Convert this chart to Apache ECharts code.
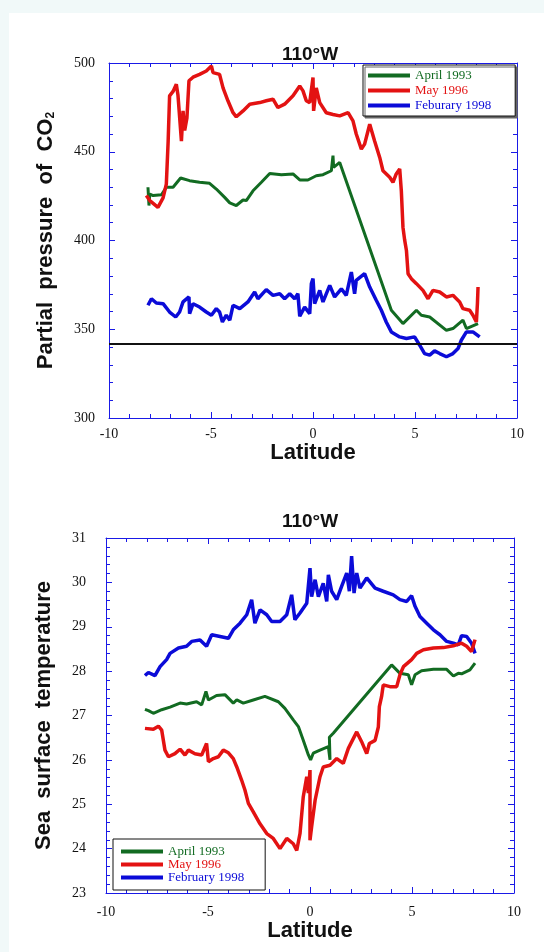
<!DOCTYPE html>
<html>
<head>
<meta charset="utf-8">
<title>110°W</title>
<script src="https://cdn.jsdelivr.net/npm/echarts/dist/echarts.min.js"></script>
<style>
	html, body { margin: 0; padding: 0; background: #f1f9f9; }
	#panel { position: absolute; left: 9px; top: 13px; width: 535px; height: 939px; background: #fff; }
	#chart { position: absolute; left: 0; top: 0; width: 544px; height: 952px; }
</style>
</head>
<body>
<div id="panel"></div>
<div id="chart"></div>
<script>
// partial pressure of CO2, [latitude, value]
var pco2Apr1993 = [[-8.09,430],[-8.04,419.7],[-8.0,426.2],[-7.84,425.3],[-7.43,425.8],[-7.19,430],[-6.86,430],[-6.49,435.2],[-6.05,433.7],[-5.56,432.8],[-5.07,432.2],[-4.74,429],[-4.33,424.3],[-4.08,421.2],[-3.76,419.7],[-3.43,422.8],[-3.27,422.5],[-2.94,428],[-2.53,432.8],[-2.12,437.8],[-1.55,437.1],[-0.98,437.5],[-0.65,434.1],[-0.25,434.1],[0.16,436.5],[0.49,437.1],[0.9,439.3],[0.98,447.8],[1.01,441.2],[1.31,444],[3.84,360.7],[4.41,353.2],[5.07,360.7],[5.31,357.9],[5.72,356.9],[6.54,349.4],[6.86,350.4],[7.35,355.1],[7.52,350.4],[8.09,353.2]];
var pco2May1996 = [[-8.17,425.3],[-8.0,422.5],[-7.6,418.7],[-7.35,424],[-7.19,431.8],[-7.1,456],[-7.03,481.5],[-6.86,484],[-6.7,488],[-6.62,482],[-6.45,456],[-6.37,473],[-6.29,462],[-6.18,469],[-6.08,490],[-5.88,492],[-5.56,493.6],[-5.23,495.5],[-4.98,498.3],[-4.9,494.6],[-4.58,493.6],[-4.41,486],[-4.17,478.7],[-3.92,472],[-3.76,469.7],[-3.43,473],[-3.1,476.8],[-2.61,477.7],[-2.29,478.7],[-1.96,479.6],[-1.72,474.9],[-1.39,476.8],[-0.98,481.5],[-0.65,487],[-0.49,484.3],[-0.33,478.7],[-0.16,477.7],[0,491.8],[0.03,473],[0.16,486],[0.33,477.7],[0.65,472],[0.98,471],[1.31,470.2],[1.72,472],[1.96,467.4],[2.12,460],[2.37,451.5],[2.53,454.3],[2.78,465.5],[3.02,456],[3.27,446.8],[3.43,439.3],[3.76,435.6],[3.92,432.8],[4.08,437.5],[4.25,440.3],[4.33,428],[4.41,407.5],[4.49,400.5],[4.58,394.4],[4.66,381.3],[4.82,378.5],[5.07,375.7],[5.39,371.9],[5.64,367.2],[5.88,371.9],[6.21,371],[6.54,368.2],[6.86,369.1],[7.19,365.4],[7.35,361.6],[7.68,360.7],[7.84,357.9],[8.01,354.1],[8.06,364.4],[8.09,373.8]];
var pco2Feb1998 = [[-8.09,363.5],[-7.92,367.2],[-7.68,364.8],[-7.35,364.4],[-7.03,359.7],[-6.73,356.9],[-6.54,359.7],[-6.37,365.4],[-6.08,368.2],[-6.05,358.8],[-5.88,364.4],[-5.56,362.5],[-5.23,359.7],[-4.98,357.9],[-4.74,361.6],[-4.58,359.7],[-4.44,354.1],[-4.25,357.9],[-4.08,355.1],[-3.92,363.5],[-3.59,361.6],[-3.19,365.4],[-2.86,371],[-2.7,367.2],[-2.29,372.3],[-1.96,369.1],[-1.63,370],[-1.39,367.2],[-1.14,370],[-0.9,367.2],[-0.74,370],[-0.65,357.3],[-0.41,362.5],[-0.16,358.8],[-0.08,375.7],[0,378.5],[0.08,364.4],[0.33,371.9],[0.49,365.4],[0.82,374.7],[1.06,368.2],[1.39,372.8],[1.63,369.1],[1.88,382.2],[2.04,370],[2.12,377.5],[2.53,381.3],[2.78,373.8],[3.1,366.3],[3.35,360.7],[3.59,354.1],[3.84,348.5],[4.25,345.7],[4.58,344.8],[4.98,345.7],[5.23,341],[5.47,336.3],[5.72,335.4],[5.96,337.8],[6.21,336.3],[6.54,334.5],[6.86,336.3],[7.11,339.1],[7.27,343.8],[7.52,348.5],[7.84,348.5],[8.17,345.7]];
var pco2RefLevel = 342;

// sea surface temperature, [latitude, value]
var sstApr1993 = [[-8.09,27.14],[-7.92,27.11],[-7.68,27.05],[-7.27,27.13],[-6.86,27.19],[-6.37,27.28],[-6.05,27.26],[-5.56,27.31],[-5.31,27.24],[-5.1,27.54],[-4.98,27.35],[-4.58,27.45],[-4.17,27.47],[-3.76,27.28],[-3.59,27.35],[-3.27,27.28],[-2.78,27.35],[-2.21,27.43],[-1.55,27.31],[-1.23,27.16],[-0.82,26.9],[-0.57,26.75],[-0.33,26.44],[-0.08,26.11],[0.03,26.0],[0.16,26.15],[0.49,26.22],[0.9,26.3],[0.98,26.0],[0.95,26.51],[1.14,26.6],[4.0,28.14],[4.41,27.95],[4.82,27.92],[4.98,27.69],[5.15,27.92],[5.47,28.01],[6.05,28.04],[6.7,28.04],[7.03,27.89],[7.27,27.95],[7.43,27.94],[7.84,28.03],[8.09,28.18]];
var sstMay1996 = [[-8.09,26.71],[-7.68,26.69],[-7.43,26.76],[-7.27,26.67],[-7.11,26.22],[-6.94,26.07],[-6.62,26.14],[-6.37,26.24],[-6.13,26.11],[-5.96,26.22],[-5.64,26.14],[-5.31,26.11],[-5.07,26.37],[-4.98,25.96],[-4.74,26.03],[-4.49,26.07],[-4.25,26.22],[-4.0,26.16],[-3.76,26.03],[-3.59,25.84],[-3.35,25.54],[-3.19,25.32],[-3.02,25.02],[-2.78,24.83],[-2.45,24.56],[-2.12,24.34],[-1.8,24.23],[-1.47,24.0],[-1.14,24.23],[-0.82,24.11],[-0.65,23.96],[-0.49,24.34],[-0.33,25.17],[-0.16,25.62],[-0.08,25.25],[0,25.77],[0,24.19],[0.08,24.49],[0.25,25.09],[0.49,25.62],[0.65,25.84],[0.98,25.88],[1.31,26.03],[1.63,25.92],[1.88,26.26],[2.29,26.63],[2.53,26.41],[2.78,26.14],[2.91,26.37],[3.19,26.44],[3.35,26.74],[3.4,27.2],[3.51,27.43],[3.59,27.69],[3.92,27.65],[4.25,27.65],[4.41,27.92],[4.58,28.1],[4.98,28.26],[5.23,28.4],[5.56,28.48],[6.05,28.52],[6.54,28.53],[7.03,28.57],[7.43,28.63],[7.68,28.56],[7.92,28.44],[8.09,28.71]];
var sstFeb1998 = [[-8.09,27.9],[-7.92,27.97],[-7.6,27.9],[-7.35,28.1],[-7.03,28.26],[-6.86,28.4],[-6.45,28.52],[-6.05,28.56],[-5.8,28.67],[-5.39,28.7],[-5.07,28.56],[-4.82,28.82],[-4.41,28.78],[-4.0,28.74],[-3.76,28.93],[-3.43,29.08],[-3.1,29.27],[-2.86,29.61],[-2.7,29.08],[-2.45,29.38],[-2.12,29.27],[-1.88,29.12],[-1.47,29.12],[-1.14,29.27],[-0.9,29.72],[-0.74,29.16],[-0.49,29.31],[-0.16,29.53],[0,30.32],[0.08,29.68],[0.25,30.06],[0.41,29.68],[0.65,29.98],[0.82,29.57],[0.9,30.17],[1.06,29.8],[1.31,29.61],[1.55,29.91],[1.8,30.21],[1.93,29.8],[2.04,30.59],[2.16,29.76],[2.29,30.21],[2.45,29.87],[2.78,30.1],[3.19,29.87],[3.59,29.8],[4.08,29.72],[4.41,29.61],[4.74,29.57],[4.98,29.7],[5.15,29.46],[5.39,29.23],[5.72,29.08],[6.05,28.93],[6.37,28.82],[6.7,28.67],[7.03,28.63],[7.27,28.59],[7.43,28.8],[7.68,28.78],[7.92,28.63],[8.09,28.4]];

var GREEN = '#126b22';
var RED = '#e31212';
var BLUE = '#0b0bd8';
var AXIS = '#1a1ae6';
var SERIF = '"Liberation Serif", "Times New Roman", serif';
var SANS = '"Liberation Sans", Arial, sans-serif';

var chart = echarts.init(document.getElementById('chart'));

// blue frame with inward ticks, labels only on left/bottom
function frameAxis(gridIndex, pos, min, max, interval, labelMargin, extra){
	var ax = {
		gridIndex: gridIndex,
		type: 'value',
		position: pos,
		min: min, max: max, interval: interval,
		axisLine: { show: true, onZero: false, lineStyle: { color: AXIS, width: 1 } },
		axisTick: { show: true, inside: true, length: 6, lineStyle: { color: AXIS } },
		minorTick: { show: true, splitNumber: 5, length: 4, lineStyle: { color: AXIS } },
		splitLine: { show: false },
		axisLabel: { show: pos == 'left' || pos == 'bottom', margin: labelMargin, color: '#111', fontFamily: SERIF, fontSize: 14 }
	};
	for (var k in extra) ax[k] = extra[k];
	return ax;
}

function line(name, data, color, width, xi, yi){
	return {
		name: name, type: 'line', data: data,
		xAxisIndex: xi, yAxisIndex: yi,
		showSymbol: false, symbol: 'none',
		lineStyle: { color: color, width: width },
		itemStyle: { color: color }
	};
}

function nameStyle(){
	return { fontFamily: SANS, fontWeight: 'bold', fontSize: 22, color: '#111' };
}

var option = {
	animation: false,
	title: [
		{ text: '110°W', left: 305, top: 40, textAlign: 'center', textStyle: { fontFamily: SANS, fontWeight: 'bold', fontSize: 19, color: '#111' } },
		{ text: '110°W', left: 305, top: 507, textAlign: 'center', textStyle: { fontFamily: SANS, fontWeight: 'bold', fontSize: 19, color: '#111' } }
	],
	grid: [
		{ left: 109, top: 63, width: 408, height: 355 },
		{ left: 106, top: 538, width: 408, height: 355 }
	],
	legend: [
		{
			orient: 'vertical', left: 363, top: 65,
			icon: 'rect', itemWidth: 42, itemHeight: 4, itemGap: 0,
			padding: [3, 24, 3, 5],
			backgroundColor: '#fff', borderColor: '#111', borderWidth: 1,
			shadowColor: '#666', shadowOffsetX: 2, shadowOffsetY: 2, shadowBlur: 0,
			textStyle: { fontFamily: SERIF, fontSize: 13, lineHeight: 15 },
			data: [
				{ name: 'April 1993', textStyle: { color: GREEN } },
				{ name: 'May 1996', textStyle: { color: RED } },
				{ name: 'Feburary 1998', textStyle: { color: BLUE } }
			]
		},
		{
			orient: 'vertical', left: 113, top: 839,
			icon: 'rect', itemWidth: 42, itemHeight: 4, itemGap: 0,
			padding: [6, 21, 6, 8],
			backgroundColor: '#fff', borderColor: '#111', borderWidth: 1,
			textStyle: { fontFamily: SERIF, fontSize: 13, lineHeight: 12.5 },
			data: [
				{ name: 'April 1993', textStyle: { color: GREEN } },
				{ name: 'May 1996', textStyle: { color: RED } },
				{ name: 'February 1998', textStyle: { color: BLUE } }
			]
		}
	],
	xAxis: [
		frameAxis(0, 'bottom', -10, 10, 5, 9, { name: 'Latitude', nameLocation: 'middle', nameGap: 22, nameTextStyle: nameStyle() }),
		frameAxis(0, 'top', -10, 10, 5, 9, {}),
		frameAxis(1, 'bottom', -10, 10, 5, 12, { name: 'Latitude', nameLocation: 'middle', nameGap: 25, nameTextStyle: nameStyle() }),
		frameAxis(1, 'top', -10, 10, 5, 9, {})
	],
	yAxis: [
		frameAxis(0, 'left', 300, 500, 50, 14, {
			name: '{b|Partial  pressure  of  CO}{s|2}', nameLocation: 'middle', nameGap: 52,
			nameTextStyle: { rich: {
				b: nameStyle(),
				s: { fontFamily: SANS, fontWeight: 'bold', fontSize: 12, color: '#111', verticalAlign: 'bottom', lineHeight: 12 }
			} }
		}),
		frameAxis(0, 'right', 300, 500, 50, 8, {}),
		frameAxis(1, 'left', 23, 31, 1, 20, { name: 'Sea  surface  temperature', nameLocation: 'middle', nameGap: 51, nameTextStyle: nameStyle() }),
		frameAxis(1, 'right', 23, 31, 1, 8, {})
	],
	series: [
		line('April 1993', pco2Apr1993, GREEN, 3, 0, 0),
		line('May 1996', pco2May1996, RED, 3.5, 0, 0),
		line('Feburary 1998', pco2Feb1998, BLUE, 3.5, 0, 0),
		line('February 1998', sstFeb1998, BLUE, 3.5, 2, 2),
		line('April 1993', sstApr1993, GREEN, 3, 2, 2),
		line('May 1996', sstMay1996, RED, 3.5, 2, 2)
	]
};

// reference level line across the upper panel
option.series[2].markLine = {
	silent: true, symbol: ['none', 'none'],
	label: { show: false },
	lineStyle: { color: '#111', width: 2, type: 'solid' },
	data: [{ yAxis: pco2RefLevel }]
};

chart.setOption(option);
</script>
</body>
</html>
